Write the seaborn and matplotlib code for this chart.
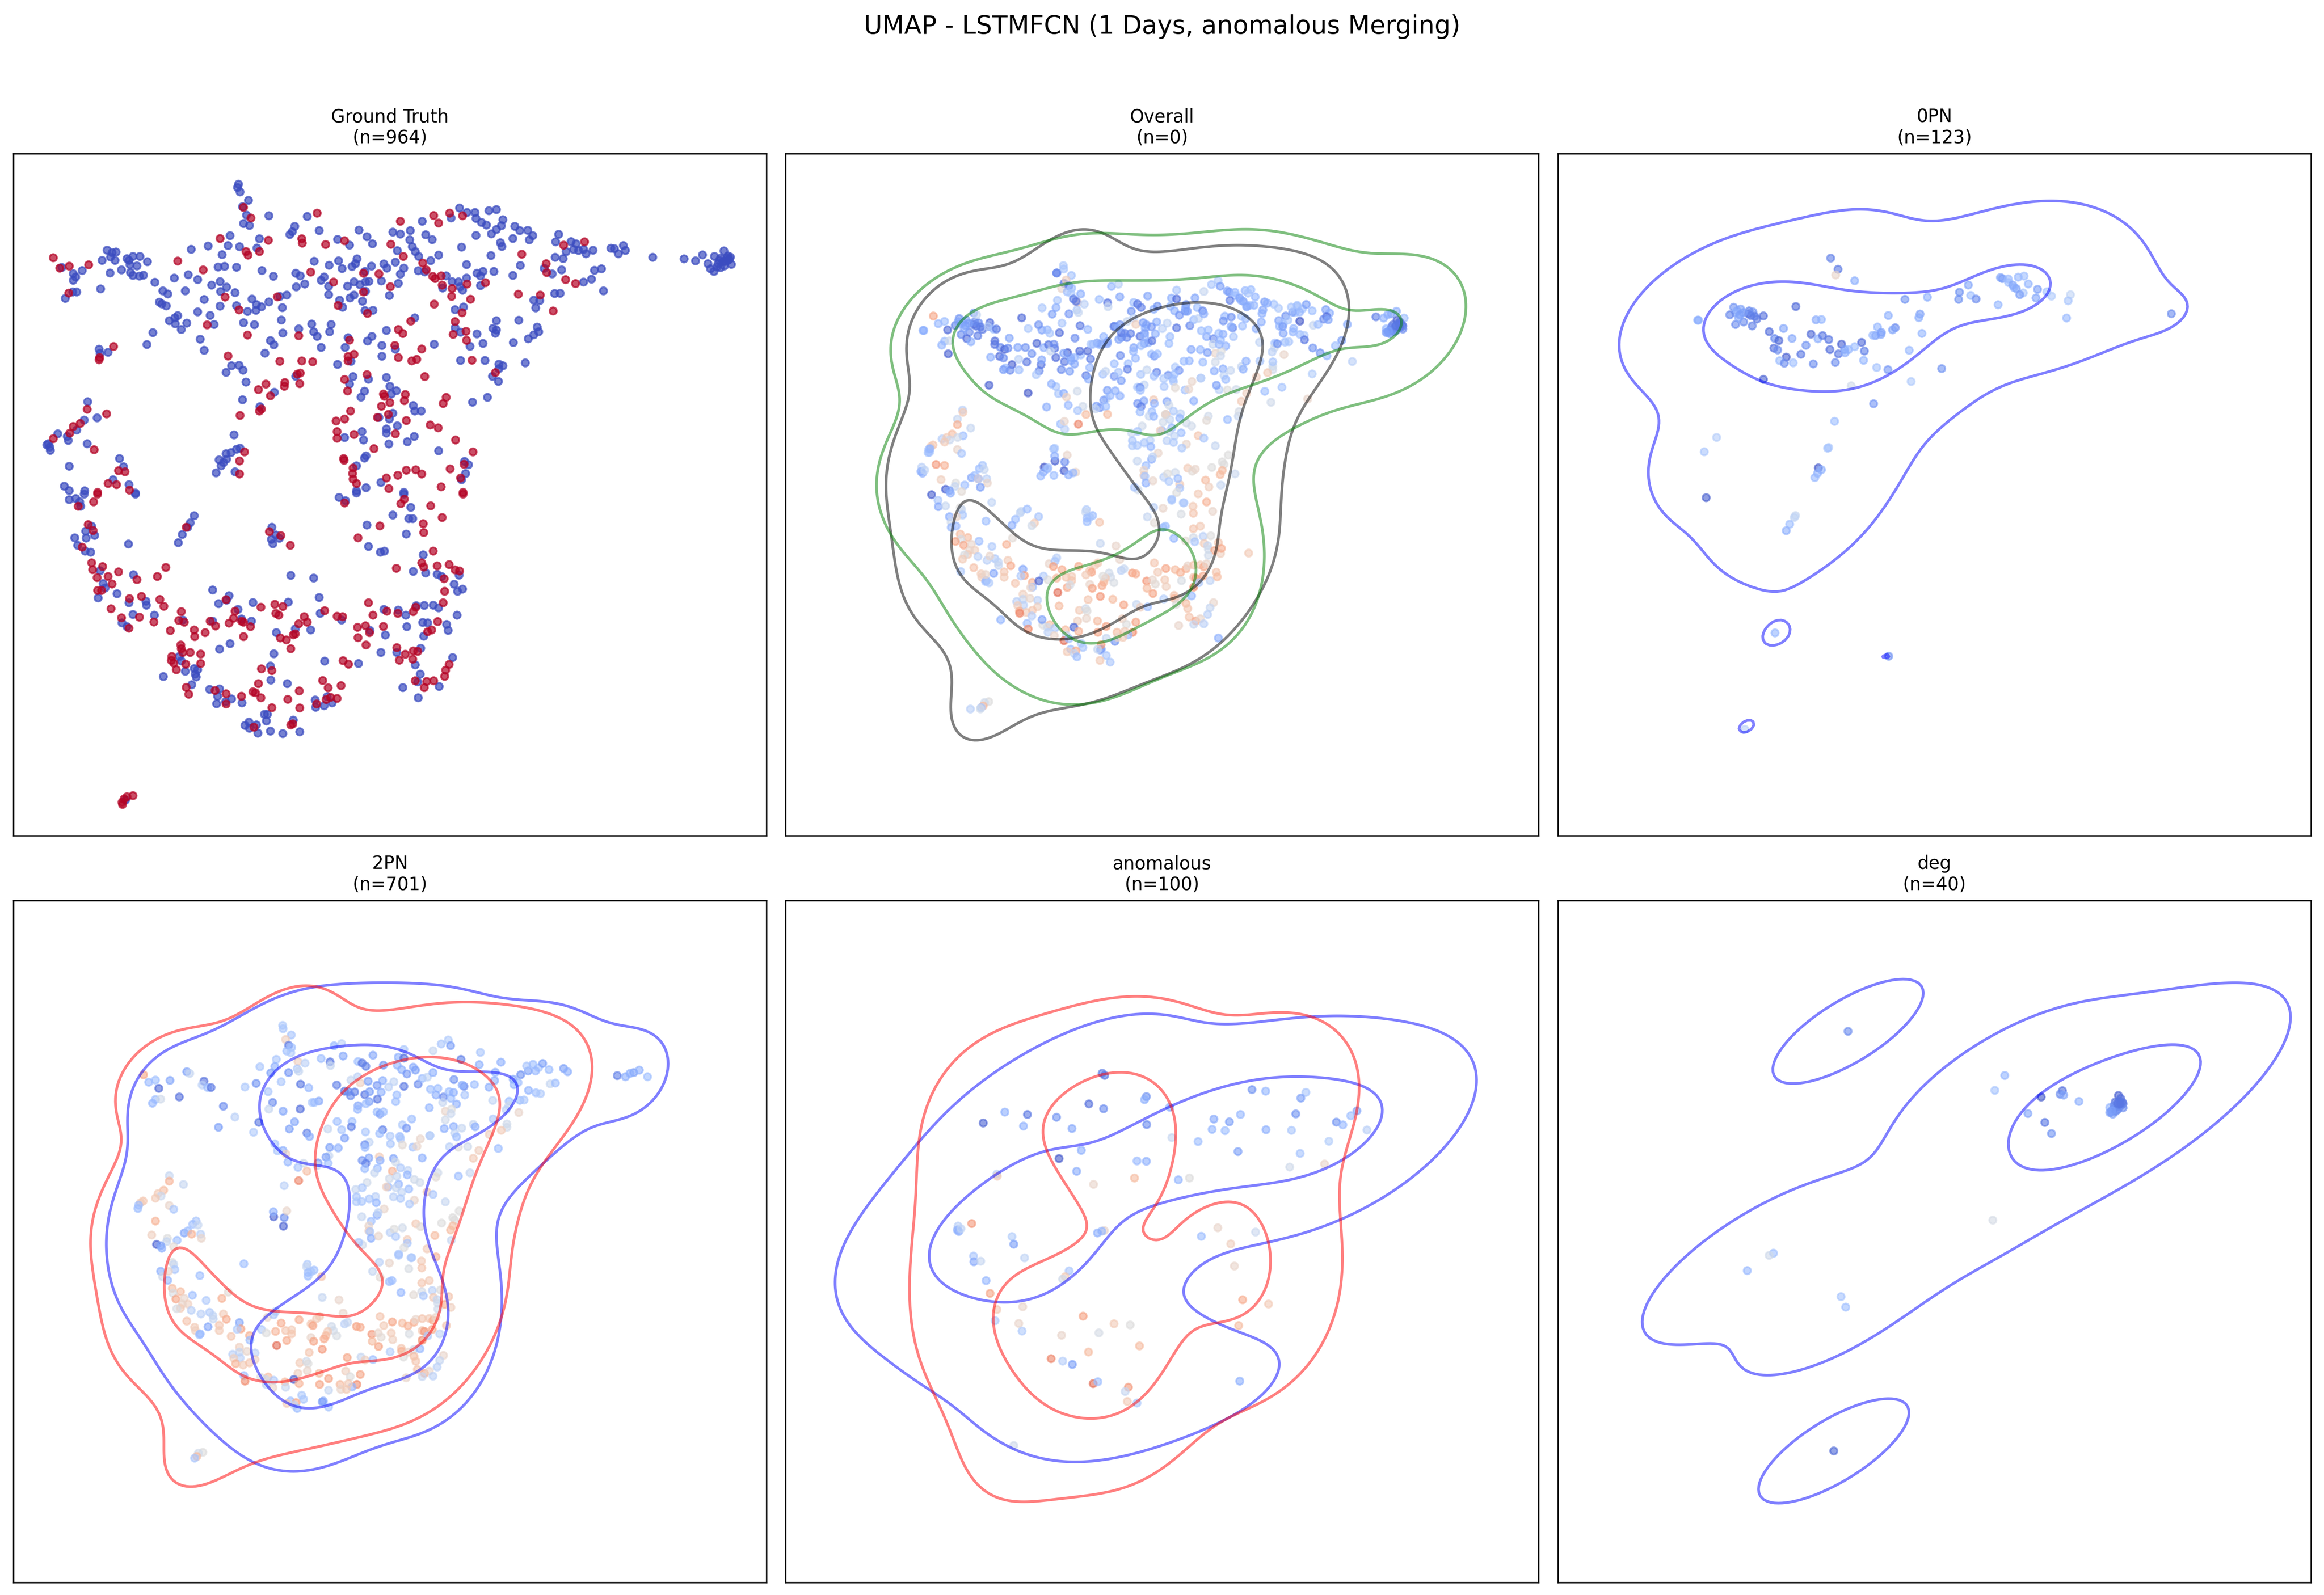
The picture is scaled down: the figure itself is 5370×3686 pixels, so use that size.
"""
UMAP panels for LSTMFCN: ground truth, overall and one panel per class.
Point values were read off the reference, each list in its own crop units.
"""
import warnings

import numpy as np
import pandas as pd
import matplotlib
matplotlib.use("Agg")
import matplotlib.pyplot as plt
import seaborn as sns

warnings.filterwarnings("ignore")

# ---------------------------------------------------------------------------
# Data: ground truth view, (x, y) by class, upper and lower part of the panel
# ---------------------------------------------------------------------------
GT_TOP_POS = [(110,503),(142,541),(123,550),(181,535),(492,275),(507,323),(640,301),(445,416),(542,424),(609,417),(610,437),(657,443),(695,426),(807,338),(874,312),(906,301),(932,313),(884,346),(788,442),(497,475),(501,491),(524,475),(360,518),(411,558),(627,568),(733,573),(764,576),(813,497),(852,527),(859,558),(872,587),(877,597),(889,585),(891,627),(941,622),(978,616),(911,642),(910,678),(948,691),(787,634),(733,658),(673,613),(875,713),(1051,487),(1100,530),(1101,570),(1135,446),(1177,431),(1139,602),(1159,620),(1044,668),(1088,672),(1114,744),(141,663),(455,681),(560,680),(682,719),(483,739),(741,755),(931,752),(917,792),(828,790),(419,807),(803,828),(812,846),(939,836),(913,850),(940,877),(500,853),(603,856),(705,876),(796,900),(850,916),(231,905),(203,955),(202,965),(461,948),(565,972),(609,970),(631,974),(702,950),(714,940),(702,970),(803,955),(830,970),(840,963),(951,967),(998,1023),(600,1030),(606,1025),(740,1032),(856,1041),(695,1054),(537,1075),(575,1068),(574,1085),(605,1073),(522,1100),(701,1106),(546,1128),(773,1120),(775,1130),(817,1122),(815,1150),(786,1159),(769,1175),(899,1135),(893,1163),(178,1189),(217,1210),(528,1188),(524,1197),(707,1197),(485,1217),(761,1226),(783,1212),(819,1240),(678,1242),(695,1233),(867,1260),(883,1273),(150,1267),(164,1253),(143,1297),(680,1290),(714,1303),(797,1300),(680,1320),(110,1322),(918,1328),(192,1372),(754,1367),(953,1382),(494,1382),(693,1412),(694,1420),(484,1423),(935,1438),(907,1459),(712,1455),(711,1480),(712,1505),(719,1525),(241,1467),(254,1472),(819,1465),(838,1463),(850,1482),(802,1488),(779,1500),(928,1500),(484,1482),(237,1530),(220,1525),(889,1540),(784,1548),(199,1565),(263,1555),(933,1565)]
GT_TOP_NEG = [(482,170),(480,185),(485,205),(502,243),(490,272),(498,310),(543,313),(492,348),(504,357),(620,316),(595,361),(590,385),(585,398),(644,380),(724,378),(740,408),(681,420),(705,446),(751,440),(792,387),(807,396),(827,380),(851,338),(858,399),(871,421),(826,422),(831,453),(837,475),(844,497),(801,471),(926,278),(941,298),(957,298),(909,323),(959,325),(970,343),(980,355),(1000,285),(985,290),(1013,331),(1010,358),(1000,375),(990,395),(959,402),(1037,361),(1047,380),(1063,379),(1073,403),(1066,422),(1033,416),(1008,435),(1011,452),(930,455),(1125,397),(1119,431),(1150,430),(1160,440),(1155,465),(1140,475),(1165,470),(1175,465),(1180,485),(1194,469),(1118,501),(1134,507),(1230,460),(1237,462),(1245,485),(1255,448),(1259,470),(1314,501),(1377,508),(1400,517),(1414,490),(1438,497),(1457,472),(1465,495),(1468,510),(1450,505),(1445,530),(1472,533),(1425,530),(1430,553),(1437,565),(1450,548),(1460,520),(1463,505),(1470,500),(1455,520),(1443,545),(1465,515),(1458,540),(1448,515),
    (465,403),(524,417),(461,448),(484,453),(421,450),(387,465),(449,489),(519,459),(218,469),(228,480),(236,477),(225,500),(208,515),(234,515),(258,507),(270,497),(284,497),(262,515),(264,535),(278,540),(299,521),(247,558),(224,572),(265,570),(270,583),(283,586),(291,582),(168,561),(150,575),(155,590),(150,605),(127,547),(205,644),(149,658),(157,658),(134,687),(314,614),(353,595),(381,580),(400,602),(441,545),(454,542),(478,546),(529,561),(552,587),(428,627),(445,611),(458,636),(446,656),(475,661),(330,653),(340,667),(375,653),(413,692),(323,704),(328,712),(337,721),(445,722),(478,720),(509,690),(518,715),(528,725),(517,741),(500,746),(543,703),(565,678),(579,672),(570,729),(597,573),(606,585),(598,635),(615,622),(648,605),(654,590),(663,632),(663,670),(634,519),(664,537),(683,517),(690,552),(710,543),(720,508),(717,530),(736,565),(749,541),(774,531),(780,550),(797,523),(814,550),(807,577),(843,562),(856,567),(868,516),(884,491),(899,585),(911,611),(924,612),(927,635),(932,650),(892,640),(940,595),(961,573),(973,565),(968,585),(995,565),(968,629),(989,493),(940,534),(1048,538),(1033,583),(1096,551),(1112,576),(1131,558),(1197,560),(1211,553),(1191,600),(1175,613),(1215,653),(1117,665),(1128,664),(1075,695),(1087,697),(1079,730),(701,632),(714,612),(726,625),(737,612),(744,610),(769,608),(803,619),(737,655),(714,672),(706,685),(685,695),(731,700),(785,674),(691,727),(736,742),(752,741),(917,738),(934,726),(400,748),(425,764),(360,765),(354,775),(343,788),(355,802),(378,799),(367,828),(433,805),(492,797),(514,806),(568,785),(310,842),(405,872),(298,896),(413,922),(571,844),(603,825),(629,803),(668,805),(633,838),(640,859),(665,838),(546,878),(553,897),(702,865),(750,859),(741,880),(779,832),(836,775),(770,900),(797,917),(875,895),(696,909),(648,909),(535,935),(202,917),(220,931),(204,935),(770,949),(1000,788),(1045,786),(993,823),(1000,830),(998,845),(961,848),(917,820),(928,840),(973,891),(947,904),(1034,887),(1082,817),(1085,838),(1075,852),(1064,870),(928,968),(977,968),(1058,979),(1005,985),(1013,992),(1005,1005),(992,1040),(1004,1063),(468,992),(483,990),(491,1012),(457,1022),(681,986),(708,972),(497,1066),(597,1040),(712,1041),(743,1053),(779,1045),(705,1075),(735,1107),(728,1134),(786,1085),(799,1105),(789,1120),(554,1112),(490,1146),(179,1155),(982,1135),(952,1157),(833,1172),(836,1197),(849,1197),(792,1207),(525,1177),(764,1226),(785,1233),(172,1238),(198,1228),(119,1300),(157,1283),(138,1312),(140,1330),(801,1264),(779,1278),(779,1297),(730,1290),(695,1317),(733,1328),(835,1312),(821,1336),(784,1346),(473,1305),(100,1345),(103,1360),(97,1350),(104,1375),(178,1345),(884,1377),(485,1365),(478,1370),(467,1385),(457,1390),(458,1415),(452,1430),(447,1445),(443,1418),(437,1477),(475,1472),(243,1412),(142,1447),(738,1400),(735,1410),(251,1449),(936,1425),(944,1440),(719,1445),(938,1480),(930,1508),(230,1508),(132,1537),(142,1557),(173,1558),(262,1530),(768,1520),(738,1544),(719,1558),(814,1565),(275,1568)]
GT_LOW_POS = [(199,5),(160,60),(191,40),(933,5),(695,45),(815,28),(808,48),(868,58),(891,111),(853,139),(854,179),(766,149),(722,203),(180,143),(190,170),(377,155),(544,175),(567,193),(586,237),(168,245),(873,263),(187,316),(209,333),(189,347),(241,357),(336,337),(319,378),(278,392),(198,383),(220,378),(228,412),(850,316),(854,335),(881,330),(905,324),(799,341),(917,348),(926,353),(895,388),(896,445),(199,441),(207,441),(263,478),(287,468),(324,482),(332,513),(226,524),(457,483),(527,517),(555,504),(571,514),(743,497),(893,497),(655,533),(367,537),(475,535),(557,545),(563,553),(838,517),(833,537),(780,535),(802,545),(752,553),(680,558),(691,560),(247,565),(283,562),(312,584),(362,577),(373,585),(425,580),(436,602),(463,589),(472,567),(488,580),(492,585),(506,605),(603,592),(614,560),(620,585),(882,582),(737,601),(721,608),(773,604),(745,632),(262,612),(345,623),(393,620),(394,650),(415,632),(492,650),(566,656),(578,665),(592,642),(596,638),(722,655),(870,620),(862,628),(738,688),(366,688),(367,705),(370,722),(385,722),(406,729),(587,705),(800,700),(817,730),(833,715),(842,717),(805,757),(348,740),(347,758),(352,770),(376,775),(406,772),(692,759),(703,775),(832,752),(905,776),(898,802),(896,830),(357,800),(528,796),(549,804),(651,849),(688,872),(662,882),(522,863),(837,850),(860,853),(874,850),(855,881),(377,880),(382,911),(604,896),(435,894),(457,909),(511,900),(516,904),(488,920),(527,927),(581,934),(680,930),(667,925),(658,935),(639,955),(549,972),(605,973),(457,955),(513,1060),(587,1050),(591,1045),(270,1370),(258,1375),(252,1385),(248,1400),(249,1410)]
GT_LOW_NEG = [(142,30),(155,25),(165,60),(163,40),(275,5),(172,5),(684,20),(697,35),(719,0),(828,65),(814,5),(393,103),(385,135),(380,155),(369,188),(361,225),(187,150),(175,173),(193,192),(153,203),(176,204),(159,237),(174,263),(185,268),(261,231),(549,155),(557,190),(548,210),(564,205),(551,230),(740,145),(792,100),(824,116),(832,116),(819,186),(743,242),(767,268),(775,263),(853,280),(204,352),(271,370),(587,373),(633,385),(833,355),(858,362),(881,368),(890,378),(925,372),(915,413),(922,445),(932,435),(210,410),(214,430),(238,456),(200,475),(430,439),(463,465),(458,485),(442,501),(511,496),(582,494),(644,473),(262,497),(296,490),(297,508),(481,527),(646,545),(774,527),(803,530),(818,553),(839,510),(855,509),(873,508),(884,520),(921,553),(270,550),(313,553),(248,588),(258,605),(370,575),(430,580),(488,570),(508,580),(689,575),(852,586),(862,588),(900,595),(820,605),(777,643),(903,622),(627,620),(596,615),(558,632),(854,648),(746,622),(465,682),(444,707),(553,728),(768,722),(800,722),(848,703),(912,745),(655,761),(723,772),(363,740),(367,760),(837,778),(546,783),(393,795),(400,800),(375,807),(395,820),(397,833),(331,831),(547,847),(580,863),(847,820),(842,855),(812,881),(885,876),(388,868),(424,889),(444,887),(440,920),(468,932),(438,954),(456,945),(489,950),(636,937),(660,922),(637,970),(654,963),(670,950),(843,927),(534,1002),(540,1002),(538,1032),(495,1052),(503,1037),(518,1050),(504,1065),(521,1087),(546,1078),(571,1089),(605,1081),(592,1028),(255,1390)]

# ---------------------------------------------------------------------------
# Data: class panels, (x, y, predicted probability) and for mixed classes the label
# ---------------------------------------------------------------------------
PN0 = [(716,118,.12),(735,149,.1),(729,165,.55),(778,181,.25),(1155,172,.22),(1160,175,.2),(1175,176,.28),(1201,171,.28),(1216,168,.3),(1176,186,.3),(1187,193,.22),(1196,203,.2),(1227,190,.27),(1251,205,.2),(1214,215,.33),(1205,220,.2),(1247,229,.22),(1275,212,.32),(1287,224,.35),(1336,220,.4),(1330,237,.33),(1326,285,.28),(1072,193,.22),(1049,213,.17),(1047,233,.17),(1078,222,.3),(1092,232,.15),(1149,248,.27),(966,227,.25),(908,233,.17),(947,274,.2),(944,284,.25),(865,278,.25),(837,310,.27),(883,312,.15),(876,318,.22),(952,328,.27),(847,325,.2),(846,331,.22),(832,334,.2),(825,333,.28),(465,255,.17),(483,260,.2),(474,265,.22),(470,270,.25),(455,276,.13),(481,276,.2),(503,273,.08),(515,268,.17),(509,278,.1),(525,288,.1),(542,279,.08),(491,296,.15),(470,303,.15),(513,307,.12),(372,291,.25),(374,291,.25),(626,253,.07),(678,290,.23),(692,289,.27),(557,323,.08),(594,314,.22),(571,342,.15),(582,348,.06),(616,342,.23),(665,330,.06),(683,343,.25),(695,334,.1),(711,345,.1),(652,361,.17),(569,369,.08),(579,374,.15),(601,394,.05),(639,386,.1),(584,404,.3),(596,411,.15),(619,410,.3),(671,413,.15),(714,373,.08),(744,358,.05),(736,385,.1),(728,409,.15),(752,373,.2),(762,373,.27),(753,382,.25),(778,365,.3),(796,353,.07),(803,377,.12),(801,403,.28),(835,423,.32),(864,429,.18),(919,375,.28),(924,462,.35),(1003,426,.17),(542,456,.05),(769,474,.45),(827,524,.18),(726,573,.3),(421,618,.37),(389,658,.33),(711,646,.35),(708,648,.32),(684,703,.03),(692,708,.25),(682,718,.25),(675,730,.28),(394,786,.04),(625,836,.42),(622,841,.4),(610,860,.3),(601,878,.25),(572,1163,.27),(866,1228,.17),(494,1432,.38),(1597,273,.15),(505,265,.15),(520,280,.12),(490,270,.2),(478,285,.22),(1190,200,.25)]

DEG = [(482,115,.15),(955,254,.27),(925,301,.32),(1065,322,.02),(1129,302,.08),(1122,313,.15),(1133,316,.22),(1179,336,.25),(1025,374,.22),(1076,402,.1),(1096,437,.17),(919,710,.47),(257,814,.3),(244,821,.45),(178,869,.28),(461,951,.32),(475,984,.3),(439,1437,.06),(1298,317,.05),(1305,326,.08),(1288,338,.08),(1310,338,.1),(1300,335,.1),(1312,343,.1),(1295,350,.13),(1305,350,.12),(1290,355,.14),(1312,356,.15),(1272,355,.27),(1283,360,.18),(1296,362,.15),(1276,370,.18),(1272,371,.2),(1281,376,.2),(1290,367,.16),(1300,345,.1),(1285,348,.15),(1295,342,.1),(1305,342,.1),(1278,365,.2)]

ANOM = [(720,187,.12,0),(727,194,.1,0),(843,264,.17,1),(838,274,.25,1),(1137,241,.17,1),(1175,246,.27,0),(1287,250,.33,1),(1273,269,.2,0),(908,299,.26,0),(683,288,.08,1),(724,304,.15,1),(449,315,.25,1),(512,323,.1,0),(389,351,.05,1),(501,361,.25,0),(593,332,.17,1),(636,369,.23,1),(844,356,.15,1),(1105,323,.28,0),(1031,338,.23,0),(1074,347,.2,0),(1026,372,.27,0),(1062,376,.3,0),(1176,373,.25,1),(1247,375,.33,0),(1259,321,.17,0),(1429,311,.22,0),(1412,327,.3,0),(1372,348,.17,0),(1390,357,.28,0),(1457,374,.38,0),(914,399,.42,0),(987,412,.3,0),(1351,411,.36,0),(1098,445,.2,0),(1271,451,.32,0),(662,441,.25,0),(600,468,.03,0),(817,476,.28,1),(843,477,.25,0),(649,510,.24,0),(1242,496,.45,0),(1339,486,.55,0),(427,519,.38,0),(428,526,.6,0),(810,532,.65,1),(932,538,.27,0),(963,532,.5,0),(696,553,.55,1),(319,690,.38,0),(317,703,.25,0),(321,708,.25,0),(327,699,.4,0),(357,682,.75,1),(469,725,.36,0),(474,750,.2,0),(726,705,.55,1),(719,707,.28,0),(707,713,.25,0),(996,724,.3,1),(1042,696,.55,1),(1147,710,.43,1),(1078,749,.58,1),(504,795,.4,0),(362,789,.33,0),(363,808,.23,0),(382,806,.42,0),(1088,822,.55,1),(628,838,.33,0),(617,857,.6,0),(610,865,.45,0),(397,870,.28,0),(408,912,.72,1),(1111,933,.7,1),(1183,947,.6,1),(427,965,.6,1),(499,956,.55,1),(667,987,.73,1),(422,1002,.35,0),(488,1011,.55,1),(753,1012,.6,1),(798,1016,.5,1),(497,1036,.35,0),(607,1050,.55,1),(711,1042,.47,1),(1100,1018,.65,1),(824,1085,.65,1),(682,1105,.65,1),(578,1127,.8,1),(610,1135,.37,0),(637,1146,.2,0),(695,1209,.85,1),(708,1203,.3,0),(793,1221,.75,1),(784,1235,.42,0),(1103,1201,.25,0),(790,1268,.6,1),(817,1273,.33,0),(474,1413,.45,1)]

PN2_UPPER = [(644,185,.35,1),(645,205,.33,1),(667,243,.32,1),(652,270,.58,1),(660,305,.12,0),(668,318,.3,1),(655,340,.3,1),(666,350,.35,0),(627,390,.33,0),(583,435,.33,0),(623,433,.25,0),(612,472,.2,0),(685,403,.58,1),(704,413,.38,0),(683,447,.35,0),(687,462,.42,1),(660,470,.18,0),(640,525,.33,0),(573,535,.17,0),(543,557,.34,0),(692,540,.1,0),(714,562,.28,0),(605,585,.33,0),(617,650,.15,0),(607,690,.42,1),(645,703,.22,0),(691,690,.08,0),(723,650,.34,0),(741,642,.22,0),(729,650,.3,0),
    (782,308,.27,0),(802,295,.38,0),(806,370,.22,0),(747,385,.3,0),(771,405,.1,0),(772,428,.42,1),(846,403,.3,0),(857,412,.1,0),(867,432,.12,0),(886,365,.22,0),(914,425,.17,0),(954,377,.25,0),(969,382,.08,0),(969,330,.33,0),(951,425,.27,0),(963,452,.25,0),(977,478,.18,0),(994,437,.24,0),(1000,455,.2,0),(1047,338,.42,1),(1069,297,.33,0),(1088,273,.35,0),(1094,307,.2,0),(1122,390,.12,0),(1174,348,.33,1),(1171,422,.25,1),(1229,407,.25,1),(1214,468,.25,1),(1282,483,.17,0),(1262,510,.22,0),(1212,518,.25,0),(1197,558,.25,0),(1158,542,.3,0),(1264,543,.27,0),(1275,530,.3,0),(1303,577,.27,1),(1323,592,.3,0),(1335,597,.35,1),(1361,538,.42,1),(1375,533,.3,1),(1302,460,.2,0),(1298,430,.33,1),(1315,420,.3,1),(1330,440,.32,0),(1341,415,.2,0),(1358,452,.3,0),(1322,460,.28,0),(1397,445,.2,0),(1408,465,.25,0),(1541,488,.12,0),(1563,495,.25,0),(1585,470,.2,0),(1600,455,.25,0),(1622,495,.3,0),(1575,475,.25,0),
    (845,495,.38,0),(827,515,.42,1),(852,532,.58,1),(873,522,.2,0),(912,518,.25,0),(897,547,.18,0),(942,525,.4,1),(969,553,.1,1),(789,545,.12,0),(810,582,.1,0),(826,610,.15,0),(837,587,.12,0),(820,585,.15,0),(864,603,.1,1),(877,585,.2,1),(908,588,.25,1),(928,557,.38,1),(950,605,.3,1),(947,645,.3,1),(898,630,.1,0),(876,645,.2,1),(867,658,.3,0),(846,670,.22,0),(845,692,.28,0),
    (1007,540,.15,1),(1018,505,.3,1),(1032,497,.4,1),(1047,470,.25,0),(1103,512,.17,0),(1130,553,.15,0),(1125,545,.25,0),(1040,570,.3,1),(1060,565,.3,1),(1055,605,.25,1),(1075,617,.15,1),(1090,585,.3,0),(1095,625,.3,1),(1102,590,.25,0),(1132,605,.33,0),(1110,660,.25,0),(1073,650,.42,1),(1037,682,.27,1),(1080,703,.55,1),(1097,690,.5,1),(1095,718,.43,1),(1207,638,.4,0),(1251,643,.3,0),(1250,670,.45,1),(1243,695,.38,0),(1280,637,.3,0),(1291,635,.33,0),(1277,711,.55,1),(1208,750,.33,0),(1245,780,.45,1),(1245,800,.45,0),(1230,818,.6,1),(1198,843,.58,1),
    (897,708,.3,1),(905,720,.2,1),(914,707,.3,1),(990,750,.3,1),(965,785,.35,1),(976,805,.18,0),(1080,755,.45,1),(1102,795,.25,0),(1077,808,.25,1),(1124,805,.42,0),(1155,782,.42,0),(1160,797,.25,0),(1105,835,.4,1),(1110,858,.3,0),(1039,850,.35,1),
    (676,767,.22,0),(662,810,.2,0),(580,770,.1,0),(472,800,.2,0),(516,738,.38,0),(485,673,.15,0),(566,830,.35,0),(367,617,.08,0),(303,632,.3,0),(295,655,.28,0),(317,630,.45,1),(312,565,.07,0),(285,528,.28,1),(303,515,.3,1),(342,517,.22,0),(387,465,.2,1),(395,475,.42,1),(433,522,.08,0),(428,545,.38,1),(443,560,.3,0),(452,560,.1,1),(271,483,.72,1),
    (790,765,.3,1),(830,765,.3,1),(828,797,.12,0),(765,810,.42,1),(802,815,.33,1),(866,828,.33,1),(912,815,.13,0),(904,838,.3,1),(932,853,.35,1),(958,855,.3,0),(709,835,.12,0),(716,856,.25,0),(810,865,.2,0),(876,890,.4,1),(864,905,.17,0),(865,922,.3,1),(933,900,.33,1),(960,870,.33,0),(1013,870,.55,1),(965,907,.52,1),(993,920,.32,0),(1004,915,.55,1),(1091,918,.38,1),(1115,920,.5,1),(1140,917,.45,0),(1170,940,.58,1),(1155,987,.6,1),(1222,928,.3,0),(1038,850,.38,0),
    (770,922,.2,1),(793,925,.25,1),(623,900,.33,0),(630,942,.33,0),(645,940,.25,0),(653,962,.57,0),(768,972,.42,1),(760,980,.2,0),(658,1010,.28,0),(739,1015,.2,0),(766,1017,.3,1),(700,1017,.45,0),(685,1042,.33,0),(709,1065,.65,1),(736,1032,.42,1),(687,1122,.8,1),(648,1152,.38,0),
    (875,985,.22,1),(903,978,.6,1),(941,988,.22,0),(1018,985,.25,1),(857,1000,.18,0),(867,1018,.12,0),(905,1000,.25,0),(864,1050,.3,1),(898,1048,.3,1),(890,1075,.42,1),(947,1010,.45,1),(960,1045,.35,0),(938,1065,.68,1),(980,1060,.4,1),(1060,1075,.45,1),(1055,1100,.52,1),(1115,1095,.3,0),(1146,1075,.42,0),
    (978,1087,.27,0),(930,1110,.45,1),(950,1095,.42,1),(997,1115,.45,1),(1012,1133,.45,0),(955,1143,.28,0),(870,1133,.45,1),(927,1160,.3,0),(922,1160,.58,1),(857,1165,.33,0),(840,1175,.42,1),(982,1173,.3,0),(948,1165,.42,1),(1031,1190,.62,1),(1047,1205,.33,0),(963,1192,.4,1),(893,1218,.38,1),(842,1220,.33,0),(876,1232,.33,1),(842,1250,.35,1),(856,1248,.33,0),(895,1255,.27,0),(941,1220,.38,1),(960,1230,.35,0),(997,1240,.55,1),(984,1263,.35,0),(1080,1250,.42,1),(916,1293,.55,1),(1117,1305,.5,1),
    (340,1092,.42,0),(340,1125,.68,1),(378,1145,.42,0),(325,1180,.65,1),(310,1200,.6,1),(318,1215,.43,0),(303,1228,.6,1),(270,1245,.62,1),(263,1255,.6,1),(258,1270,.3,0),(256,1290,.3,0),(340,1272,.55,1),(352,1295,.33,0),
    (303,1366,.68,1),(293,1450,.58,1),(412,1365,.33,0),(403,1385,.3,1),(417,1390,.42,0),(380,1438,.22,0),(390,1425,.3,1),(400,1445,.68,1),(424,1445,.38,0),(426,1470,.55,1),(335,1470,.5,1),(333,1490,.42,1),(361,1482,.3,1),(306,1507,.05,0),(317,1515,.2,0),(320,1530,.25,0),(352,1520,.52,1),
    (620,1340,.05,0),(648,1345,.15,0),(619,1310,.25,0),(655,1305,.55,1),(646,1397,.05,0),
    (856,1340,.42,0),(897,1330,.25,0),(900,1315,.4,1),(881,1367,.3,0),(875,1395,.55,1),(875,1425,.58,1),(878,1430,.33,0),(881,1470,.25,0),(901,1457,.55,1),(932,1435,.38,0),(965,1407,.45,1),(943,1415,.5,1),(947,1460,.35,0),(1001,1382,.6,1),(1014,1400,.52,1),(1100,1345,.5,1),(1105,1360,.5,1),(1070,1378,.5,1),(1100,1395,.65,1),(1094,1420,.65,1),(1052,1453,.65,1),(1096,1482,.42,0),(978,1478,.6,1),(978,1500,.33,0),(969,1527,.5,1),(1031,1534,.6,1),(858,1510,.45,0),(848,1495,.33,0),(955,1565,.33,0)]

PN2_LOWER = [(540,187,.3,0),(710,190,.35,0),(708,205,.42,0),(728,225,.3,0),(712,240,.3,0),(720,235,.33,0),(712,262,.3,0),(748,265,.62,1),(955,135,.33,0),(990,150,.33,0),(988,150,.35,0),(1055,145,.68,1),(903,177,.38,0),(930,182,.55,0),(1016,170,.6,1),(1017,212,.62,0),(982,217,.48,0),(885,233,.42,0),(905,268,.52,0),(930,295,.3,0),(937,288,.3,0),(1037,288,.6,1),(1017,303,.62,0),(961,360,.28,0),(995,375,.52,0),(1017,355,.47,1),(1045,348,.38,0),(1067,345,.5,0),(1021,380,.33,0),(1048,390,.6,1),(1058,403,.42,0),(1089,385,.62,1),
    (348,178,.5,1),(352,190,.42,1),(355,222,.33,0),(317,232,.25,0),(338,232,.55,1),(322,265,.45,0),(336,287,.28,0),(422,258,.3,0),(348,335,.65,1),(370,355,.65,1),(350,365,.48,1),(402,377,.3,0),(358,400,.72,1),(380,395,.55,1),(390,430,.58,1),(375,430,.55,1),(370,455,.6,1),(360,458,.48,1),(399,468,.38,1),(439,408,.35,0),(481,396,.68,1),(498,358,.52,1),(750,390,.42,0),(795,405,.55,0),
    (425,490,.38,1),(448,480,.35,0),(457,500,.4,1),(458,520,.42,0),(485,490,.6,1),(493,522,.7,1),(387,533,.63,1),(408,570,.6,1),(410,590,.58,1),(474,558,.62,1),(474,590,.6,1),(444,567,.22,0),(423,610,.27,0),(421,615,.3,0),(528,542,.22,0),(532,580,.72,1),(522,582,.35,0),(506,625,.62,1),(555,620,.68,1),(556,648,.3,0),(587,583,.35,0),
    (603,510,.55,0),(625,475,.38,0),(620,495,.33,0),(640,545,.7,1),(688,525,.7,1),(743,505,.6,1),(735,518,.6,1),(720,550,.62,0),(725,560,.72,1),(806,485,.55,0),(775,565,.45,0),(780,590,.45,0),(765,595,.6,1),(625,595,.67,1),(652,590,.62,0),(668,585,.6,1),(668,610,.62,0),(600,605,.5,0),(760,620,.65,0),(755,640,.7,1),(789,622,.48,0),(720,632,.55,0),(727,655,.72,1),(655,650,.7,1),(810,550,.38,0),(818,540,.42,0),(842,565,.72,1),(852,570,.7,0),
    (905,505,.62,0),(915,560,.6,1),(938,538,.72,1),(965,545,.65,1),(980,562,.68,0),(996,540,.68,1),(1001,522,.55,1),(1018,518,.62,0),(1037,517,.6,1),(1047,528,.7,1),(1055,510,.55,0),(1083,560,.62,1),(883,612,.75,1),(900,605,.55,0),(935,605,.6,0),(908,630,.52,0),(884,655,.65,1),(939,645,.58,0),(901,686,.72,1),(983,610,.48,0),(1018,590,.62,0),(1024,595,.75,1),(1045,583,.7,0),(1018,648,.78,1),(1033,622,.35,0),(1065,610,.4,0),(1060,425,.45,0),(1078,432,.7,1),(1095,450,.58,1),(1060,460,.45,0),
    (528,690,.58,1),(528,720,.42,0),(510,733,.38,0),(530,755,.38,0),(570,725,.38,0),(548,715,.55,1),(513,757,.58,1),(518,790,.68,1),(538,798,.6,1),(570,765,.58,0),(555,785,.62,1),(628,680,.85,1),(750,703,.75,1),(715,722,.62,0),(690,785,.6,0),(708,775,.45,0),(712,790,.5,1),(817,753,.72,1),(854,750,.42,0),(865,767,.58,0),(886,765,.3,0),(932,718,.36,0),(962,697,.62,0),(963,715,.68,1),(980,720,.55,0),(968,750,.5,0),(995,705,.45,0),(1012,700,.28,0),(996,745,.65,1),(1001,775,.62,0),(1075,740,.55,0),(1065,770,.42,0),(1058,810,.38,0),
    (710,833,.55,0),(685,848,.58,1),(742,848,.65,0),(813,835,.58,0),(825,868,.5,0),(852,855,.72,1),(767,880,.72,0),(540,862,.3,0),(585,872,.5,1),(605,870,.65,1),(598,885,.45,0),(620,890,.35,0),(600,915,.38,0),(543,895,.78,1),(650,900,.65,0),(652,932,.42,0),(618,935,.55,1),(674,885,.06,0),(688,910,.68,1),(743,915,.72,0),(798,915,.65,1),(843,915,.78,1),(830,930,.28,0),(820,910,.6,0),(800,945,.55,1),(815,945,.6,0),(767,950,.42,0),(1005,825,.62,1),(1024,848,.72,0),(1037,835,.55,1),(975,875,.55,1),(1018,868,.42,0),(1047,865,.38,0),
    (695,980,.35,0),(700,1005,.33,0),(753,1015,.25,0),(750,1020,.2,0),(665,1015,.3,0),(655,1030,.6,1),(680,1025,.7,1),(675,1040,.42,0),(683,1060,.3,0),(767,1052,.33,0),(430,1325,.5,1),(418,1330,.45,1),(414,1350,.65,1),(408,1360,.33,1)]

PN2_LOWER_SHIFT = 1437
GT_LOWER_SHIFT = 1568

# linear scales from each list's own units to the shared embedding
GT_MAP = (0.3352, 0.0, 0.149, 99.3)
PN0_MAP = (0.3728, -107.0, 0.3171, 87.0)
PN2_MAP = (0.3344, -49.0, 0.1617, 87.4)
ANOM_MAP = (0.3631, -85.4, 0.3195, 89.5)
DEG_MAP = (0.4, -32.7, 0.2227, 98.7)

# panel limits in embedding units, y runs downwards
LIMITS = {
    "Ground Truth": ((10, 517), (564, 104)),
    "Overall": ((-100.3, 622.3), (662, 10.3)),
    "0PN": ((-103, 623), (635, 32)),
    "2PN": ((-75, 600), (661, -4.6)),
    "anomalous": ((-144, 617), (685, -32.5)),
    "deg": ((-190, 719), (511, 32.5)),
}
PANEL_LEFT = [31, 1815, 3600]
PANEL_TOP = [356, 2082]
PANEL_W, PANEL_H = 1740, 1576
FIG_W, FIG_H = 5370, 3687

NEG_COLOR, POS_COLOR = "#3b4cc0", "#b40426"


def to_frame(rows, mapping, shift=0):
    """Turn (x, y, p[, gt]) rows into embedding coordinates."""
    rows = [r if len(r) == 4 else (*r, 0) for r in rows]
    df = pd.DataFrame(rows, columns=["x", "y", "p", "gt"])
    sx, ox, sy, oy = mapping
    df["x"] = sx * df["x"] + ox
    df["y"] = sy * (df["y"] + shift) + oy
    return df


def gt_frame(rows, label, shift=0):
    df = pd.DataFrame(rows, columns=["x", "y"])
    sx, ox, sy, oy = GT_MAP
    df["x"] = sx * df["x"] + ox
    df["y"] = sy * (df["y"] + shift) + oy
    df["gt"] = label
    return df


def draw_points(ax, df):
    sns.scatterplot(data=df, x="x", y="y", hue="p", palette="coolwarm", hue_norm=(0, 1),
                    s=16, alpha=0.6, edgecolor="face", linewidth=1.0, legend=False, ax=ax)


def draw_kde(ax, df, color):
    sns.kdeplot(data=df, x="x", y="y", levels=3, color=color, alpha=0.5,
                linewidths=1.5, ax=ax)


def finish(ax, name, n):
    xlim, ylim = LIMITS[name]
    ax.set_xlim(*xlim)
    ax.set_ylim(*ylim)
    ax.set_xticks([])
    ax.set_yticks([])
    ax.set_xlabel("")
    ax.set_ylabel("")
    ax.set_title(f"{name}\n(n={n})", fontsize=10)


# ---------------------------------------------------------------------------
# Assemble
# ---------------------------------------------------------------------------
gt = pd.concat([
    gt_frame(GT_TOP_NEG, 0), gt_frame(GT_LOW_NEG, 0, GT_LOWER_SHIFT),
    gt_frame(GT_TOP_POS, 1), gt_frame(GT_LOW_POS, 1, GT_LOWER_SHIFT),
], ignore_index=True)
pn0 = to_frame(PN0, PN0_MAP)
pn2 = pd.concat([to_frame(PN2_UPPER, PN2_MAP), to_frame(PN2_LOWER, PN2_MAP, PN2_LOWER_SHIFT)],
                ignore_index=True)
anom = to_frame(ANOM, ANOM_MAP)
deg = to_frame(DEG, DEG_MAP)
overall = pd.concat([pn0, pn2, anom, deg], ignore_index=True)

fig = plt.figure(figsize=(FIG_W / 300, FIG_H / 300), dpi=300)
axes = [fig.add_axes([PANEL_LEFT[c] / FIG_W, 1 - (PANEL_TOP[r] + PANEL_H) / FIG_H,
                      PANEL_W / FIG_W, PANEL_H / FIG_H])
        for r in range(2) for c in range(3)]

# Ground truth
sns.scatterplot(data=gt, x="x", y="y", hue="gt", palette={0: NEG_COLOR, 1: POS_COLOR},
                s=16, alpha=0.7, edgecolor="face", linewidth=1.0, legend=False, ax=axes[0])
finish(axes[0], "Ground Truth", 964)

# Overall: label contours in black and green
draw_points(axes[1], overall)
draw_kde(axes[1], overall[overall["gt"] == 1], "black")
draw_kde(axes[1], overall[overall["gt"] == 0], "green")
finish(axes[1], "Overall", 0)

# One panel per class
for ax, name, df, n in [(axes[2], "0PN", pn0, 123), (axes[3], "2PN", pn2, 701),
                        (axes[4], "anomalous", anom, 100), (axes[5], "deg", deg, 40)]:
    draw_points(ax, df)
    draw_kde(ax, df[df["gt"] == 0], "blue")
    draw_kde(ax, df[df["gt"] == 1], "red")
    finish(ax, name, n)

fig.suptitle("UMAP - LSTMFCN (1 Days, anomalous Merging)", fontsize=14, y=0.991)
fig.savefig("out.png", dpi=300)
plt.close(fig)
